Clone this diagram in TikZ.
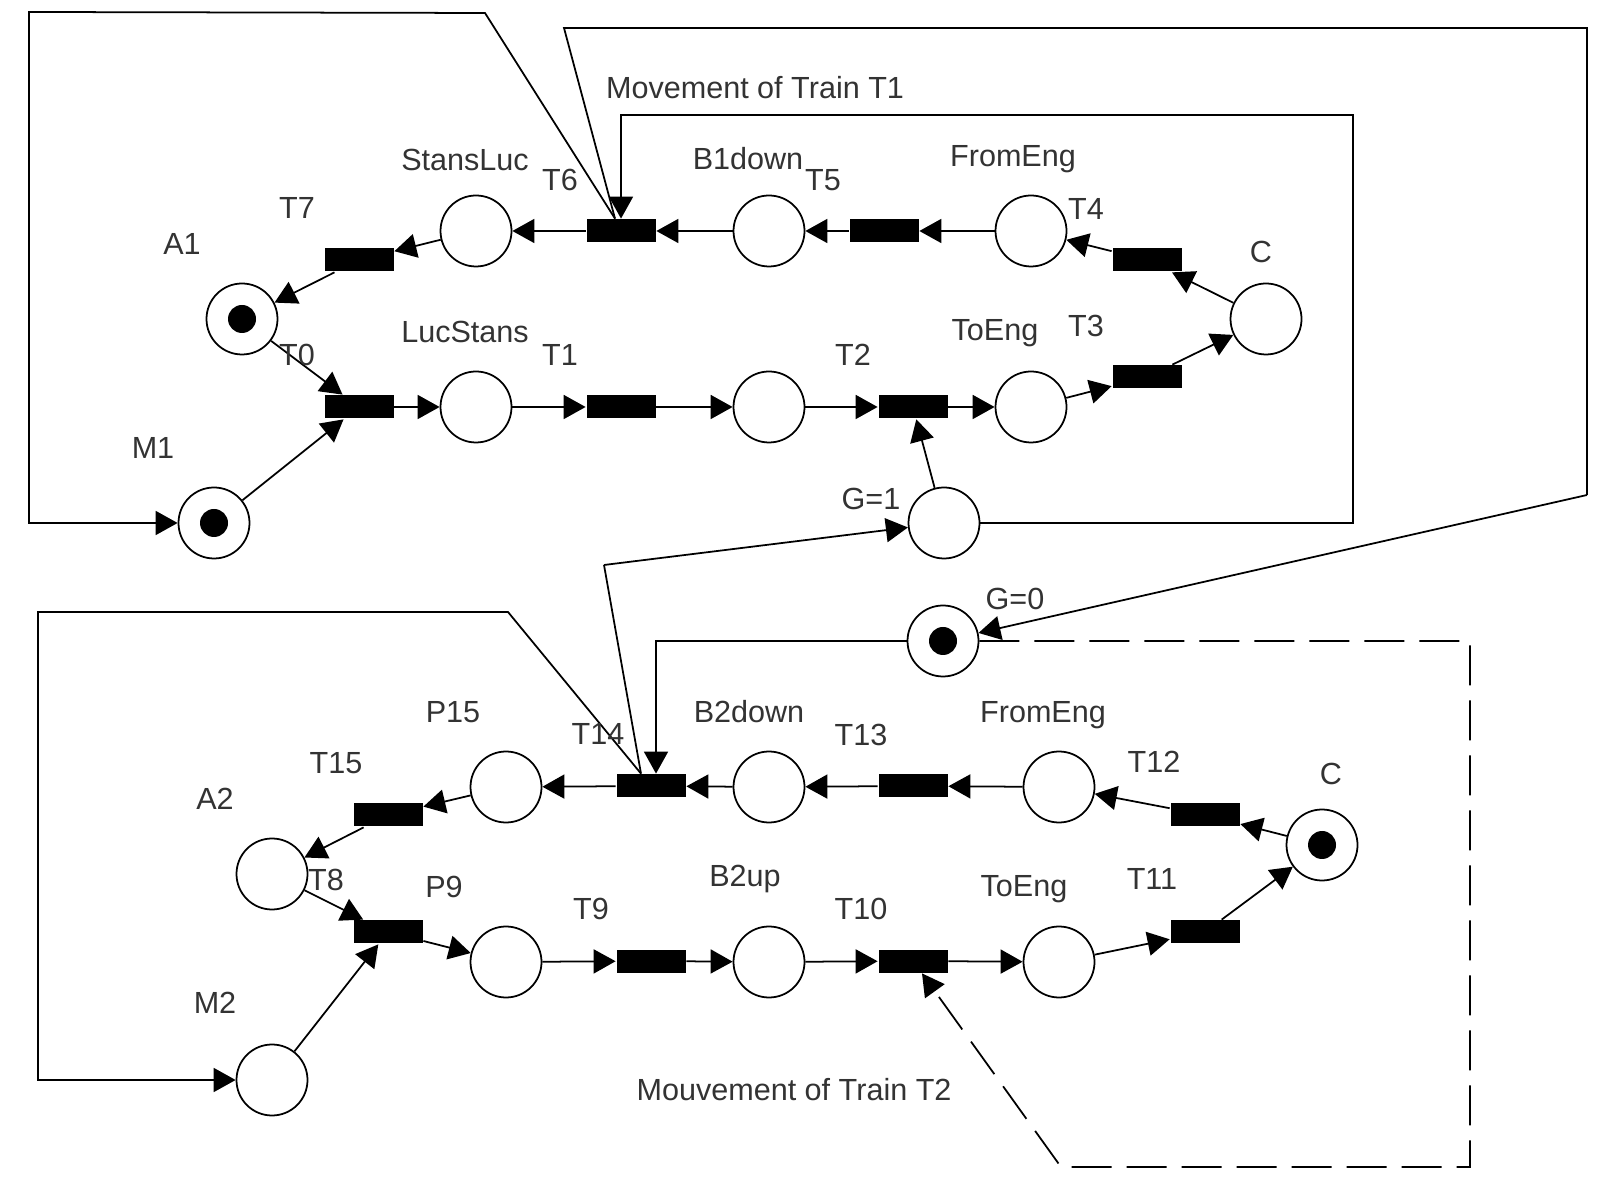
\documentclass[tikz,border=0pt]{standalone}
\usepackage{fontspec}
\setmainfont{Liberation Sans}
\usetikzlibrary{arrows.meta}

\begin{document}
\begin{tikzpicture}[line width=0.5pt,
    place/.style={draw, circle, minimum size=0.71cm, inner sep=0pt},
    trans/.style={fill, minimum width=0.69cm, minimum height=0.23cm, inner sep=0pt},
    flow/.style={-{Triangle[length=0.22cm, width=0.24cm]}},
    lbl/.style={text=black!80, inner sep=0pt, font=\fontsize{8.7}{10}\selectfont}]
  \useasboundingbox (0, 0) rectangle (15.97, 12.01);

  \node[place] (A1) at (2.42, 8.82) {};
  \node[place] (StansLuc) at (4.76, 9.70) {};
  \node[place] (B1down) at (7.69, 9.70) {};
  \node[place] (FromEng1) at (10.31, 9.70) {};
  \node[place] (C1) at (12.66, 8.82) {};
  \node[place] (LucStans) at (4.76, 7.94) {};
  \node[place] (B1up) at (7.69, 7.94) {};
  \node[place] (ToEng1) at (10.31, 7.94) {};
  \node[place] (M1) at (2.14, 6.78) {};
  \node[place] (G1) at (9.44, 6.78) {};

  \node[trans] (T7) at (3.59, 9.41) {};
  \node[trans] (T6) at (6.21, 9.70) {};
  \node[trans] (T5) at (8.84, 9.70) {};
  \node[trans] (T4) at (11.47, 9.41) {};
  \node[trans] (T3) at (11.47, 8.24) {};
  \node[trans] (T2) at (9.13, 7.94) {};
  \node[trans] (T1) at (6.21, 7.94) {};
  \node[trans] (T0) at (3.59, 7.94) {};

  \node[place] (A2) at (2.72, 3.27) {};
  \node[place] (P15) at (5.06, 4.14) {};
  \node[place] (B2down) at (7.69, 4.14) {};
  \node[place] (FromEng2) at (10.59, 4.14) {};
  \node[place] (C2) at (13.22, 3.56) {};
  \node[place] (P9) at (5.06, 2.39) {};
  \node[place] (B2up) at (7.69, 2.39) {};
  \node[place] (ToEng2) at (10.59, 2.39) {};
  \node[place] (M2) at (2.72, 1.21) {};
  \node[place] (G0) at (9.43, 5.60) {};

  \node[trans] (T15) at (3.88, 3.86) {};
  \node[trans] (T14) at (6.51, 4.15) {};
  \node[trans] (T13) at (9.13, 4.15) {};
  \node[trans] (T12) at (12.05, 3.86) {};
  \node[trans] (T11) at (12.05, 2.69) {};
  \node[trans] (T10) at (9.13, 2.40) {};
  \node[trans] (T9) at (6.51, 2.40) {};
  \node[trans] (T8) at (3.88, 2.69) {};

  \fill (A1) circle (0.14);
  \fill (M1) circle (0.14);
  \fill (G0) circle (0.14);
  \fill (C2) circle (0.14);

  \draw[flow] (StansLuc) -- (T7);
  \draw[flow] (T7) -- (A1);
  \draw[flow] (T6) -- (StansLuc);
  \draw[flow] (B1down) -- (T6);
  \draw[flow] (T5) -- (B1down);
  \draw[flow] (FromEng1) -- (T5);
  \draw[flow] (T4) -- (FromEng1);
  \draw[flow] (C1) -- (T4);
  \draw[flow] (T3) -- (C1);
  \draw[flow] (ToEng1) -- (T3);
  \draw[flow] (T2) -- (ToEng1);
  \draw[flow] (B1up) -- (T2);
  \draw[flow] (T1) -- (B1up);
  \draw[flow] (LucStans) -- (T1);
  \draw[flow] (T0) -- (LucStans);
  \draw[flow] (A1) -- (T0);
  \draw[flow] (M1) -- (T0);
  \draw[flow] (G1) -- (T2);

  \draw[flow] (P15) -- (T15);
  \draw[flow] (T15) -- (A2);
  \draw[flow] (T14) -- (P15);
  \draw[flow] (B2down) -- (T14);
  \draw[flow] (T13) -- (B2down);
  \draw[flow] (FromEng2) -- (T13);
  \draw[flow] (T12) -- (FromEng2);
  \draw[flow] (C2) -- (T12);
  \draw[flow] (T11) -- (C2);
  \draw[flow] (ToEng2) -- (T11);
  \draw[flow] (T10) -- (ToEng2);
  \draw[flow] (B2up) -- (T10);
  \draw[flow] (T9) -- (B2up);
  \draw[flow] (P9) -- (T9);
  \draw[flow] (T8) -- (P9);
  \draw[flow] (A2) -- (T8);
  \draw[flow] (M2) -- (T8);

  \draw[flow] ([xshift=-0.06cm]T6.north) -- (4.85, 11.88) -- (0.29, 11.89) |- (M1.west);
  \draw ([xshift=-0.06cm]T6.north) -- (5.64, 11.73) -- (15.87, 11.73) -- (15.87, 7.06);
  \draw[flow] (15.87, 7.06) -- (G0);
  \draw[flow] (G1.east) -- (13.53, 6.78) -- (13.53, 10.86) -| (T6.north);

  \draw[flow] ([xshift=-0.1cm]T14.north) -- (5.08, 5.89) -- (0.38, 5.89) |- (M2.west);
  \draw ([xshift=-0.1cm]T14.north) -- (6.04, 6.36);
  \draw[flow] (6.04, 6.36) -- (G1);
  \draw[flow] (G0.west) -| ([xshift=0.05cm]T14.north);
  \draw[flow, dash pattern=on 0.4cm off 0.15cm] (G0.east) -- (14.70, 5.60) -- (14.70, 0.34)
    -- (10.61, 0.34) -- ([xshift=0.09cm]T10.south);

  \node[lbl] (lbMove1) at (7.55, 11.13) {Movement of Train T1};
  \node[lbl] (lbStansLuc) at (4.65, 10.41) {StansLuc};
  \node[lbl] (lbT6) at (5.60, 10.21) {T6};
  \node[lbl] (lbB1down) at (7.48, 10.42) {B1down};
  \node[lbl] (lbT5) at (8.23, 10.21) {T5};
  \node[lbl] (lbFromEng1) at (10.13, 10.42) {FromEng};
  \node[lbl] (lbT4) at (10.86, 9.92) {T4};
  \node[lbl] (lbC1) at (12.61, 9.49) {C};
  \node[lbl] (lbT7) at (2.97, 9.93) {T7};
  \node[lbl] (lbA1) at (1.82, 9.57) {A1};
  \node[lbl] (lbLucStans) at (4.65, 8.69) {LucStans};
  \node[lbl] (lbT0) at (2.97, 8.46) {T0};
  \node[lbl] (lbT1) at (5.60, 8.46) {T1};
  \node[lbl] (lbT2) at (8.53, 8.46) {T2};
  \node[lbl] (lbToEng1) at (9.95, 8.68) {ToEng};
  \node[lbl] (lbT3) at (10.86, 8.75) {T3};
  \node[lbl] (lbM1) at (1.53, 7.53) {M1};
  \node[lbl] (lbG1) at (8.71, 7.02) {G=1};

  \node[lbl] (lbG0) at (10.15, 6.02) {G=0};
  \node[lbl] (lbP15) at (4.53, 4.89) {P15};
  \node[lbl] (lbT14) at (5.98, 4.67) {T14};
  \node[lbl] (lbB2down) at (7.49, 4.89) {B2down};
  \node[lbl] (lbT13) at (8.61, 4.66) {T13};
  \node[lbl] (lbFromEng2) at (10.43, 4.86) {FromEng};
  \node[lbl] (lbT12) at (11.54, 4.39) {T12};
  \node[lbl] (lbC2) at (13.31, 4.27) {C};
  \node[lbl] (lbT15) at (3.36, 4.38) {T15};
  \node[lbl] (lbA2) at (2.15, 4.02) {A2};
  \node[lbl] (lbT8) at (3.26, 3.21) {T8};
  \node[lbl] (lbP9) at (4.44, 3.14) {P9};
  \node[lbl] (lbT9) at (5.91, 2.92) {T9};
  \node[lbl] (lbB2up) at (7.45, 3.22) {B2up};
  \node[lbl] (lbT10) at (8.61, 2.92) {T10};
  \node[lbl] (lbToEng2) at (10.24, 3.12) {ToEng};
  \node[lbl] (lbT11) at (11.52, 3.22) {T11};
  \node[lbl] (lbM2) at (2.15, 1.98) {M2};
  \node[lbl] (lbMove2) at (7.94, 1.11) {Mouvement of Train T2};
\end{tikzpicture}
\end{document}
